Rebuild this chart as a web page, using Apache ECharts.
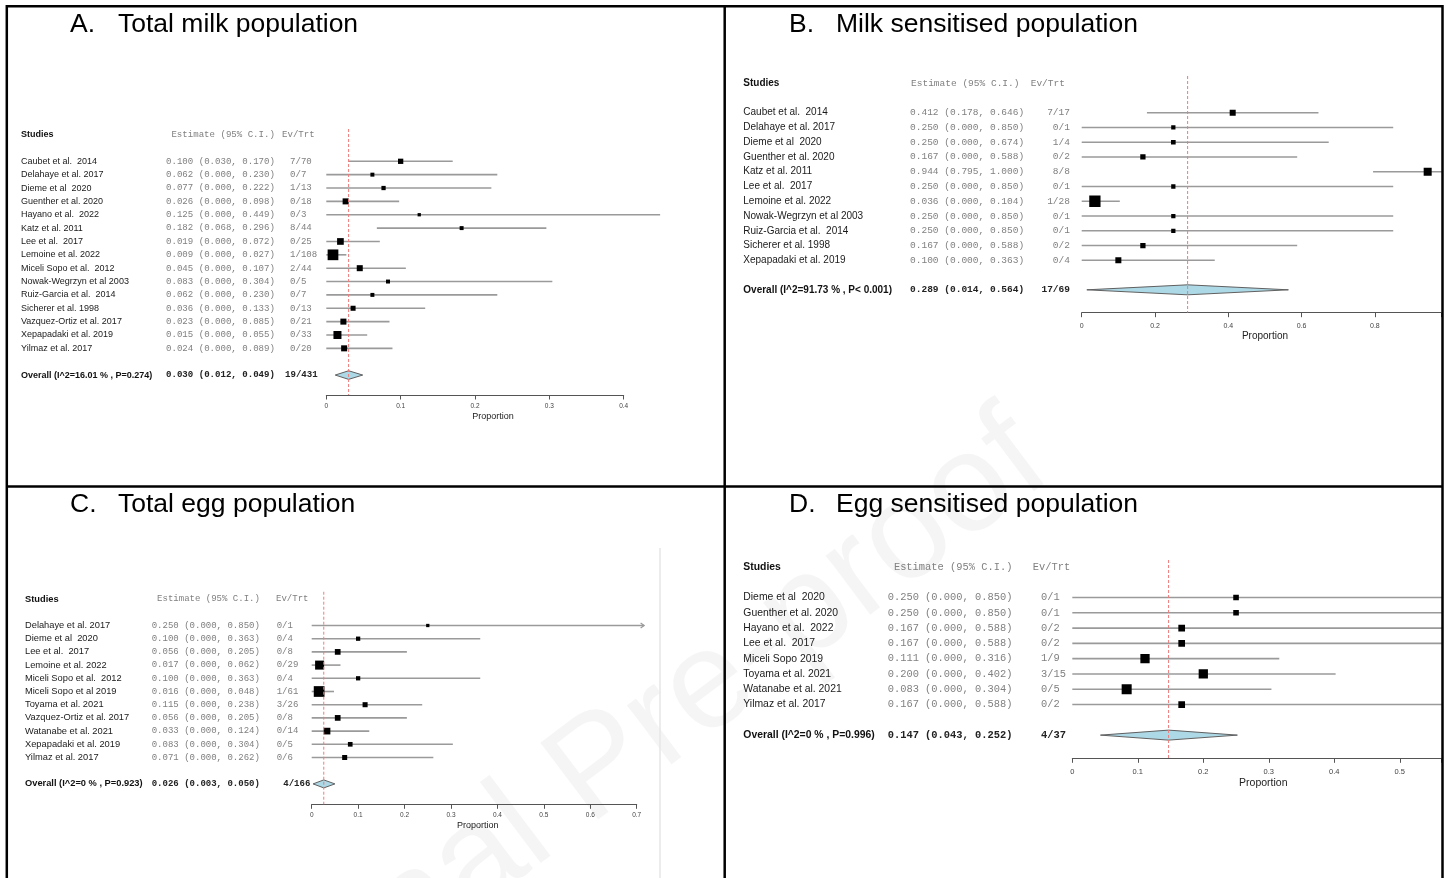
<!DOCTYPE html>
<html><head><meta charset="utf-8">
<script src="https://cdn.jsdelivr.net/npm/echarts@6/dist/echarts.min.js"></script>
<style>html,body{margin:0;padding:0;background:#fff}#c{width:1453px;height:878px}</style>
</head><body><div id="c"></div><script>
const SANS = '"Liberation Sans", Arial, sans-serif';
const MONO = '"Liberation Mono", "Courier New", monospace';

// ---------- A. Total milk population ----------
const A_studies = ['Caubet et al.  2014','Delahaye et al. 2017','Dieme et al  2020','Guenther et al. 2020','Hayano et al.  2022','Katz et al. 2011','Lee et al.  2017','Lemoine et al. 2022','Miceli Sopo et al.  2012','Nowak-Wegrzyn et al 2003','Ruiz-Garcia et al.  2014','Sicherer et al. 1998','Vazquez-Ortiz et al. 2017','Xepapadaki et al. 2019','Yilmaz et al. 2017'];
const A_est = [0.100,0.062,0.077,0.026,0.125,0.182,0.019,0.009,0.045,0.083,0.062,0.036,0.023,0.015,0.024];
const A_lo  = [0.030,0.000,0.000,0.000,0.000,0.068,0.000,0.000,0.000,0.000,0.000,0.000,0.000,0.000,0.000];
const A_hi  = [0.170,0.230,0.222,0.098,0.449,0.296,0.072,0.027,0.107,0.304,0.230,0.133,0.085,0.055,0.089];
const A_ev  = [7,0,1,0,0,8,0,1,2,0,0,0,0,0,0];
const A_n   = [70,7,13,18,3,44,25,108,44,5,7,13,21,33,20];
const A_wt  = [23,13,15,30,9,13,37,95,30,13,13,21,30,53,30];
const A_overall = [0.030,0.012,0.049];
const A_overallEv = [19,431];
const A_overallLabel = 'Overall (I^2=16.01 % , P=0.274)';
const A_ticks = [0,0.1,0.2,0.3,0.4];
const A_tickLabels = ['0','0.1','0.2','0.3','0.4'];

// ---------- B. Milk sensitised population ----------
const B_studies = ['Caubet et al.  2014','Delahaye et al. 2017','Dieme et al  2020','Guenther et al. 2020','Katz et al. 2011','Lee et al.  2017','Lemoine et al. 2022','Nowak-Wegrzyn et al 2003','Ruiz-Garcia et al.  2014','Sicherer et al. 1998','Xepapadaki et al. 2019'];
const B_est = [0.412,0.250,0.250,0.167,0.944,0.250,0.036,0.250,0.250,0.167,0.100];
const B_lo  = [0.178,0.000,0.000,0.000,0.795,0.000,0.000,0.000,0.000,0.000,0.000];
const B_hi  = [0.646,0.850,0.674,0.588,1.000,0.850,0.104,0.850,0.850,0.588,0.363];
const B_ev  = [7,0,1,0,8,0,1,0,0,0,0];
const B_n   = [17,1,4,2,8,1,28,1,1,2,4];
const B_wt  = [30,15,18,23,53,15,105,15,15,23,30];
const B_overall = [0.289,0.014,0.564];
const B_overallEv = [17,69];
const B_overallLabel = 'Overall (I^2=91.73 % , P< 0.001)';
const B_ticks = [0,0.2,0.4,0.6,0.8];
const B_tickLabels = ['0','0.2','0.4','0.6','0.8'];

// ---------- C. Total egg population ----------
const C_studies = ['Delahaye et al. 2017','Dieme et al  2020','Lee et al.  2017','Lemoine et al. 2022','Miceli Sopo et al.  2012','Miceli Sopo et al 2019','Toyama et al. 2021','Vazquez-Ortiz et al. 2017','Watanabe et al. 2021','Xepapadaki et al. 2019','Yilmaz et al. 2017'];
const C_est = [0.250,0.100,0.056,0.017,0.100,0.016,0.115,0.056,0.033,0.083,0.071];
const C_lo  = [0,0,0,0,0,0,0,0,0,0,0];
const C_hi  = [0.850,0.363,0.205,0.062,0.363,0.048,0.238,0.205,0.124,0.304,0.262];
const C_ev  = [0,0,0,0,0,1,3,0,0,0,0];
const C_n   = [1,4,8,29,4,61,26,8,14,5,6];
const C_wt  = [9,15,27,67,15,95,21,27,37,18,21];
const C_overall = [0.026,0.003,0.050];
const C_overallEv = [4,166];
const C_overallLabel = 'Overall (I^2=0 % , P=0.923)';
const C_ticks = [0,0.1,0.2,0.3,0.4,0.5,0.6,0.7];
const C_tickLabels = ['0','0.1','0.2','0.3','0.4','0.5','0.6','0.7'];

// ---------- D. Egg sensitised population ----------
const D_studies = ['Dieme et al  2020','Guenther et al. 2020','Hayano et al.  2022','Lee et al.  2017','Miceli Sopo 2019','Toyama et al. 2021','Watanabe et al. 2021','Yilmaz et al. 2017'];
const D_est = [0.250,0.250,0.167,0.167,0.111,0.200,0.083,0.167];
const D_lo  = [0,0,0,0,0,0,0,0];
const D_hi  = [0.850,0.850,0.588,0.588,0.316,0.402,0.304,0.588];
const D_ev  = [0,0,0,0,1,3,0,0];
const D_n   = [1,1,2,2,9,15,5,2];
const D_wt  = [26,26,37,37,71,71,83,37];
const D_overall = [0.147,0.043,0.252];
const D_overallEv = [4,37];
const D_overallLabel = 'Overall (I^2=0 % , P=0.996)';
const D_ticks = [0,0.1,0.2,0.3,0.4,0.5];
const D_tickLabels = ['0','0.1','0.2','0.3','0.4','0.5'];

const panels = [
  {title:['A.','Total milk population'], studies:A_studies, est:A_est, lo:A_lo, hi:A_hi, ev:A_ev, n:A_n, wt:A_wt, ov:A_overall, ovEv:A_overallEv, ovLabel:A_overallLabel, ticks:A_ticks, tickLabels:A_tickLabels,
   L:{tx:70, tx2:118, ty:25, x0:326.3, ppu:743.5, xmax:0.4, step:0.1, row0:161.3, sp:13.36, top:129, axis:395, nameX:21, estX:166, estHX:171.4, evX:290, evHX:282, evOX:285, evAlign:'left', nameFs:9, monoFs:9.08, tickFs:6.5, tickMargin:8, propX:493, propY:416.7, propFs:9, dh:4.3, clip:false, ciMax:null}},
  {title:['B.','Milk sensitised population'], studies:B_studies, est:B_est, lo:B_lo, hi:B_hi, ev:B_ev, n:B_n, wt:B_wt, ov:B_overall, ovEv:B_overallEv, ovLabel:B_overallLabel, ticks:B_ticks, tickLabels:B_tickLabels,
   L:{tx:789, tx2:836, ty:25, x0:1081.7, ppu:366.5, xmax:(1441-1081.7)/366.5, step:0.2, row0:112.7, sp:14.76, top:76, axis:312.7, nameX:743.3, estX:910, estHX:911, evX:1070, evHX:1030.7, evOX:1070, evAlign:'right', nameFs:10, monoFs:9.53, tickFs:7, tickMargin:9.5, propX:1265, propY:336.7, propFs:10, dh:5, clip:true, ciMax:null}},
  {title:['C.','Total egg population'], studies:C_studies, est:C_est, lo:C_lo, hi:C_hi, ev:C_ev, n:C_n, wt:C_wt, ov:C_overall, ovEv:C_overallEv, ovLabel:C_overallLabel, ticks:C_ticks, tickLabels:C_tickLabels,
   L:{tx:70, tx2:118, ty:505, x0:311.7, ppu:464.3, xmax:0.7, step:0.1, row0:625.5, sp:13.2, top:591.7, axis:804.3, nameX:25, estX:151.7, estHX:157.1, evX:276.7, evHX:276, evOX:283.3, evAlign:'left', nameFs:9.3, monoFs:9.03, tickFs:6.5, tickMargin:7.5, propX:477.7, propY:826, propFs:9, dh:4, clip:false, ciMax:0.716}},
  {title:['D.','Egg sensitised population'], studies:D_studies, est:D_est, lo:D_lo, hi:D_hi, ev:D_ev, n:D_n, wt:D_wt, ov:D_overall, ovEv:D_overallEv, ovLabel:D_overallLabel, ticks:D_ticks, tickLabels:D_tickLabels,
   L:{tx:789, tx2:836, ty:505, x0:1072.3, ppu:655, xmax:(1441-1072.3)/655, step:0.1, row0:597.5, sp:15.29, top:560, axis:758.3, nameX:743.3, estX:887.7, estHX:893.9, evX:1041, evHX:1032.7, evOX:1041, evAlign:'left', nameFs:10.4, monoFs:10.4, tickFs:7.5, tickMargin:10, propX:1263.3, propY:783.3, propFs:10.5, dh:5, clip:true, ciMax:null}}
];

const W_SCALE = 1.1;
const CI_COLOR = '#9a9a9a';
const fmt = v => v.toFixed(3);
const ciStr = (e,l,h) => fmt(e) + ' (' + fmt(l) + ', ' + fmt(h) + ')';

const grids=[], xAxes=[], yAxes=[], series=[], graphics=[];

panels.forEach((P,k) => {
  const L = P.L, nS = P.studies.length;
  const ymin = -(L.row0 - L.top) / L.sp;
  const ymax = (L.axis - L.row0) / L.sp;
  grids.push({left:L.x0, top:L.top, width:L.xmax*L.ppu, height:L.axis-L.top, containLabel:false});
  xAxes.push({gridIndex:k, type:'value', position:'bottom', min:0, max:L.xmax, interval:L.step,
    axisLine:{show:true, onZero:false, lineStyle:{color:'#555', width:1}},
    axisTick:{show:true, length:4.5, lineStyle:{color:'#555', width:1}},
    splitLine:{show:false},
    axisLabel:{fontSize:L.tickFs, fontFamily:SANS, color:'#444', margin:L.tickMargin,
      formatter: v => { const j = P.ticks.findIndex(t => Math.abs(t - v) < 1e-9); return j < 0 ? '' : P.tickLabels[j]; }}
  });
  yAxes.push({gridIndex:k, type:'value', inverse:true, min:ymin, max:ymax, show:false, axisLine:{onZero:false}});

  // study CIs and boxes
  series.push({type:'custom', xAxisIndex:k, yAxisIndex:k, clip:L.clip, silent:true, z:3,
    data: P.est.map((e,i) => [e, i, P.lo[i], P.hi[i], P.wt[i]]),
    encode:{x:[0,2,3], y:1},
    renderItem:(params, api) => {
      const e = api.value(0), r = api.value(1), lo = api.value(2);
      let hi = api.value(3), arrow = false;
      if (L.ciMax != null && hi > L.ciMax) { hi = L.ciMax; arrow = true; }
      const pE = api.coord([e, r]), pL = api.coord([lo, r]), pH = api.coord([hi, r]);
      const s = W_SCALE * Math.sqrt(api.value(4));
      const ch = [
        {type:'line', shape:{x1:pL[0], y1:pE[1], x2:pH[0], y2:pE[1]}, style:{stroke:CI_COLOR, lineWidth:1.6}},
        {type:'rect', shape:{x:pE[0]-s/2, y:pE[1]-s/2, width:s, height:s}, style:{fill:'#000'}}
      ];
      if (arrow) ch.push({type:'polyline', shape:{points:[[pH[0]-3.5,pE[1]-2.5],[pH[0],pE[1]],[pH[0]-3.5,pE[1]+2.5]]}, style:{stroke:CI_COLOR, lineWidth:1.2, fill:null}});
      return {type:'group', children:ch};
    }
  });

  // overall diamond
  series.push({type:'custom', xAxisIndex:k, yAxisIndex:k, clip:false, silent:true, z:3,
    data:[[P.ov[0], nS+1, P.ov[1], P.ov[2]]],
    encode:{x:[0,2,3], y:1},
    renderItem:(params, api) => {
      const r = api.value(1);
      const pE = api.coord([api.value(0), r]), pL = api.coord([api.value(2), r]), pH = api.coord([api.value(3), r]);
      return {type:'polygon', shape:{points:[[pL[0],pE[1]],[pE[0],pE[1]-L.dh],[pH[0],pE[1]],[pE[0],pE[1]+L.dh]]},
        style:{fill:'#add8e6', stroke:'#606060', lineWidth:1}};
    }
  });

  // reference dashed line at pooled estimate
  series.push({type:'line', xAxisIndex:k, yAxisIndex:k, silent:true, z:5, symbol:'none',
    data:[[P.ov[0], ymin],[P.ov[0], ymax]],
    lineStyle:{color:'#f07a7a', width:1, type:[3,2]}});

  // text columns
  series.push({type:'custom', xAxisIndex:k, yAxisIndex:k, clip:false, silent:true, z:4,
    data:[[0,0]], encode:{x:0, y:1},
    renderItem:(params, api) => {
      const yOf = r => api.coord([0, r])[1];
      const ch = [];
      const t = (x, y, text, fs, fam, color, bold, align) => ch.push({type:'text',
        style:{x:x, y:y, text:text, fill:color, fontSize:fs, fontFamily:fam, fontWeight:bold?'bold':'normal', align:align||'left', verticalAlign:'middle'}});
      const yh = yOf(-2);
      t(L.nameX, yh, 'Studies', L.nameFs, SANS, '#111', true);
      t(L.estHX, yh, 'Estimate (95% C.I.)', L.monoFs, MONO, '#808080', false);
      t(L.evHX, yh, 'Ev/Trt', L.monoFs, MONO, '#808080', false);
      P.studies.forEach((name, i) => {
        const y = yOf(i);
        t(L.nameX, y, name, L.nameFs, SANS, '#1a1a1a', false);
        t(L.estX, y, ciStr(P.est[i], P.lo[i], P.hi[i]), L.monoFs, MONO, '#808080', false);
        t(L.evX, y, P.ev[i] + '/' + P.n[i], L.monoFs, MONO, '#808080', false, L.evAlign);
      });
      const yo = yOf(nS + 1);
      t(L.nameX, yo, P.ovLabel, L.nameFs, SANS, '#111', true);
      t(L.estX, yo, ciStr(P.ov[0], P.ov[1], P.ov[2]), L.monoFs, MONO, '#222', true);
      t(L.evOX, yo, P.ovEv[0] + '/' + P.ovEv[1], L.monoFs, MONO, '#222', true, L.evAlign);
      return {type:'group', children:ch};
    }
  });

  // titles and axis name
  graphics.push({type:'text', x:L.tx, y:L.ty, silent:true, style:{text:P.title[0], fontSize:26.5, fontFamily:SANS, fill:'#000', verticalAlign:'middle'}});
  graphics.push({type:'text', x:L.tx2, y:L.ty, silent:true, style:{text:P.title[1], fontSize:26.5, fontFamily:SANS, fill:'#000', verticalAlign:'middle'}});
  graphics.push({type:'text', x:L.propX, y:L.propY, silent:true, style:{text:'Proportion', fontSize:L.propFs, fontFamily:SANS, fill:'#222', align:'center', verticalAlign:'middle'}});
});

// watermark
graphics.push({type:'text', x:600, y:770, rotation:0.646, silent:true, z:-10,
  style:{text:'Journal Pre-proof', fontSize:140, fontFamily:SANS, fill:'rgba(0,0,0,0.04)', align:'center', verticalAlign:'middle'}});
// faint image edge in panel C
graphics.push({type:'line', silent:true, shape:{x1:660, y1:548, x2:660, y2:878}, style:{stroke:'#e6e6e6', lineWidth:1.5}});
// table borders
const B_W = 2.5;
[[6,6.3,1442.5,6.3],[6.8,5,6.8,878],[724.7,5,724.7,878],[1442.5,5,1442.5,878],[6,486.5,1442.5,486.5]].forEach(s => {
  graphics.push({type:'line', silent:true, z:100, shape:{x1:s[0], y1:s[1], x2:s[2], y2:s[3]}, style:{stroke:'#000', lineWidth:B_W}});
});

const chart = echarts.init(document.getElementById('c'), null, {renderer:'canvas'});
chart.setOption({
  animation:false,
  backgroundColor:'#fff',
  grid:grids, xAxis:xAxes, yAxis:yAxes, series:series,
  graphic:{elements:graphics}
});
</script></body></html>
